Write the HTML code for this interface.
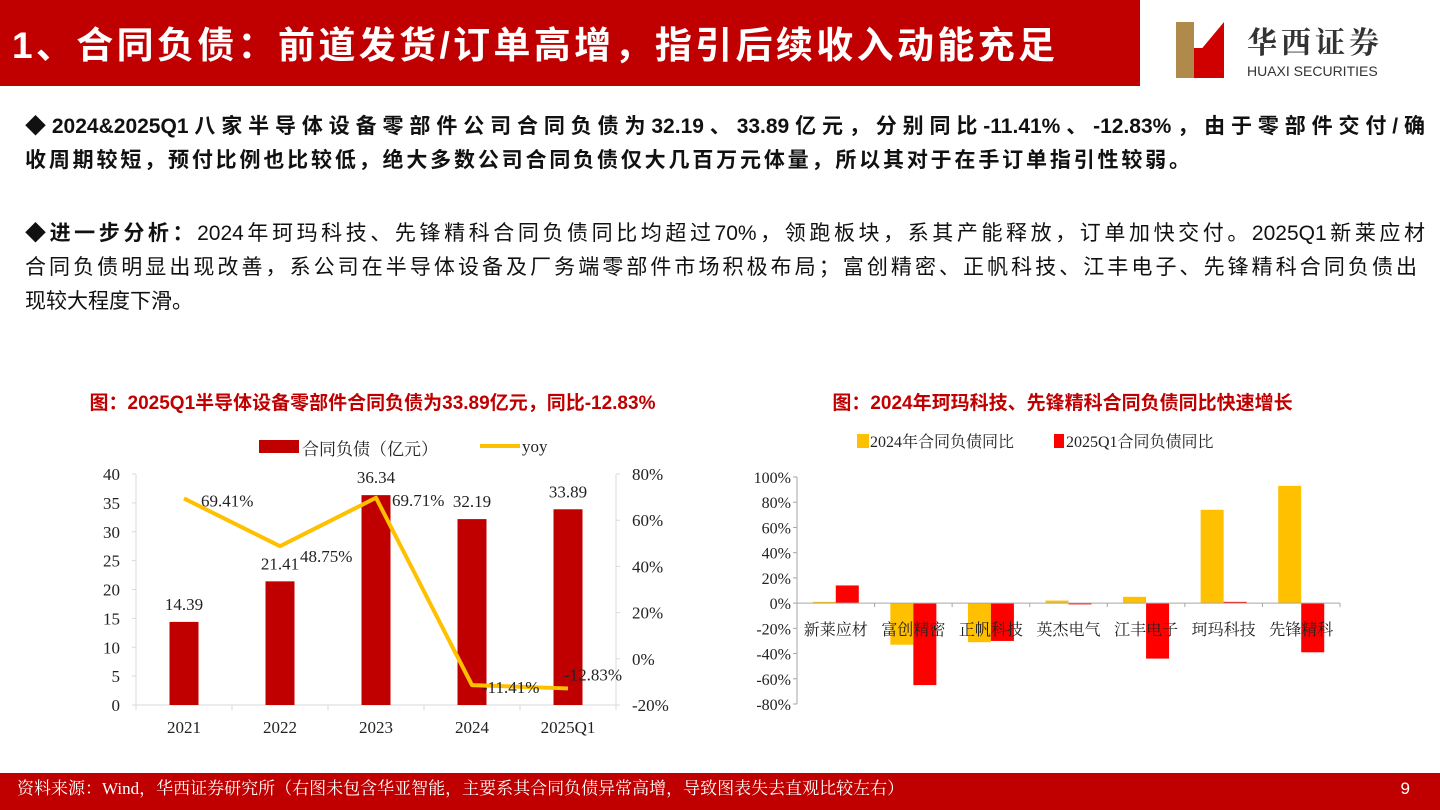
<!DOCTYPE html>
<html><head><meta charset="utf-8">
<style>
body{margin:0;width:1440px;height:810px;background:#fff;position:relative;overflow:hidden;font-family:"Liberation Sans","Noto Sans CJK SC",sans-serif;}
.hdr{position:absolute;left:0;top:0;width:1140px;height:86px;background:#c00000;}
.hdrt{position:absolute;left:12px;top:0;width:1043px;color:#fff;font-weight:bold;font-size:37px;line-height:92px;white-space:nowrap;text-align:justify;text-align-last:justify;}
.ln{position:absolute;left:25px;width:1400px;font-size:21px;line-height:34px;color:#111;white-space:nowrap;text-align:justify;text-align-last:justify;}
.foot{position:absolute;left:0;top:773px;width:1440px;height:37px;background:#c00000;color:#fff;font-family:"Liberation Serif","Noto Serif CJK SC",serif;font-size:17px;line-height:32px;padding-left:17px;box-sizing:border-box;}
svg text{font-family:"Liberation Serif","Noto Serif CJK SC",serif;}
</style></head><body>
<div class="hdr"></div>
<div class="hdrt">1、合同负债：前道发货/订单高增，指引后续收入动能充足</div>
<div style="position:absolute;left:1172px;top:18px;width:250px;height:65px;">
<svg width="60" height="64" viewBox="0 0 60 64"><rect x="4" y="4" width="18" height="56" fill="#b08a4a"/><polygon points="22,40 52,4 52,60 36,60 36,40" fill="#d00000"/><rect x="22" y="30" width="14" height="30" fill="#d00000"/></svg>
<div style="position:absolute;left:75px;top:0;font-family:'Noto Serif CJK SC',serif;font-size:30px;font-weight:bold;color:#333;letter-spacing:4px;">华西证券</div>
<div style="position:absolute;left:75px;top:45px;font-size:14px;color:#333;">HUAXI SECURITIES</div>
</div>
<div>
<div class="ln" style="top:110px;font-weight:bold;">◆2024&amp;2025Q1八家半导体设备零部件公司合同负债为32.19、33.89亿元，分别同比-11.41%、-12.83%，由于零部件交付/确</div>
<div class="ln" style="top:144px;font-weight:bold;width:1165px;">收周期较短，预付比例也比较低，绝大多数公司合同负债仅大几百万元体量，所以其对于在手订单指引性较弱。</div>
</div>
<div>
<div class="ln" style="top:217px;"><b>◆进一步分析：</b>2024年珂玛科技、先锋精科合同负债同比均超过70%，领跑板块，系其产能释放，订单加快交付。2025Q1新莱应材</div>
<div class="ln" style="top:251px;width:1392px;">合同负债明显出现改善，系公司在半导体设备及厂务端零部件市场积极布局；富创精密、正帆科技、江丰电子、先锋精科合同负债出</div>
<div class="ln" style="top:285px;width:180px;text-align-last:left;">现较大程度下滑。</div>
</div>

<div style="position:absolute;left:0;width:745px;top:388px;text-align:center;color:#c00000;font-weight:bold;font-size:19px;">图：2025Q1半导体设备零部件合同负债为33.89亿元，同比-12.83%</div>
<div style="position:absolute;left:740px;width:645px;top:388px;text-align:center;color:#c00000;font-weight:bold;font-size:19px;">图：2024年珂玛科技、先锋精科合同负债同比快速增长</div>

<svg id="c1" width="1440" height="810" style="position:absolute;left:0;top:0;"></svg>
<svg id="c2" width="1440" height="810" style="position:absolute;left:0;top:0;"></svg>

<div class="foot">资料来源：Wind，华西证券研究所（右图未包含华亚智能，主要系其合同负债异常高增，导致图表失去直观比较左右）<span style="position:absolute;right:30px;font-family:'Liberation Sans',sans-serif;">9</span></div>

<script>
const cats1=["2021","2022","2023","2024","2025Q1"];
const liab=[14.39,21.41,36.34,32.19,33.89];
const yoy=[69.41,48.75,69.71,-11.41,-12.83];
const leftTicks=[0,5,10,15,20,25,30,35,40];
const rightTicks=[-20,0,20,40,60,80];

const cats2=["新莱应材","富创精密","正帆科技","英杰电气","江丰电子","珂玛科技","先锋精科"];
const y2024=[1,-33,-31,2,5,74,93];
const y2025=[14,-65,-30,-1,-44,1,-39];
const ticks2=[-80,-60,-40,-20,0,20,40,60,80,100];

const NS="http://www.w3.org/2000/svg";
function mk(svg,tag,a,txt){const e=document.createElementNS(NS,tag);for(const k in a)e.setAttribute(k,a[k]);if(txt!==undefined)e.textContent=txt;svg.appendChild(e);return e;}

(function(){
const s=document.getElementById('c1');
const X0=136,X1=616,Y0=705,Ytop=474;
const band=(X1-X0)/cats1.length;
const xc=i=>X0+band*(i+0.5);
const yL=v=>Y0-(v/40)*(Y0-Ytop);
const yR=v=>Y0-((v+20)/100)*(Y0-Ytop);
let e;
e=mk(s,'line',{x1:X0,y1:Ytop,x2:X0,y2:Y0,stroke:'#d9d9d9'});

e=mk(s,'line',{x1:X1,y1:Ytop,x2:X1,y2:Y0,stroke:'#d9d9d9'});

e=mk(s,'line',{x1:X0,y1:Y0,x2:X1,y2:Y0,stroke:'#d9d9d9'});

leftTicks.forEach(t=>{mk(s,'line',{x1:X0-4,y1:yL(t),x2:X0,y2:yL(t),stroke:'#d9d9d9'});
e=mk(s,'text',{x:X0-16,y:yL(t)+6,'text-anchor':'end','font-size':17,fill:'#222'},String(t));
});
rightTicks.forEach(t=>{mk(s,'line',{x1:X1,y1:yR(t),x2:X1+4,y2:yR(t),stroke:'#d9d9d9'});
e=mk(s,'text',{x:X1+16,y:yR(t)+6,'font-size':17,fill:'#222'},t+'%');
});
for(let i=0;i<=cats1.length;i++)mk(s,'line',{x1:X0+band*i,y1:Y0,x2:X0+band*i,y2:Y0+5,stroke:'#d9d9d9'});
const bw=29;
cats1.forEach((c,i)=>{
e=mk(s,'rect',{x:xc(i)-bw/2,y:yL(liab[i]),width:bw,height:Y0-yL(liab[i]),fill:'#c00000'});

e=mk(s,'text',{x:xc(i),y:yL(liab[i])-12,'text-anchor':'middle','font-size':17,fill:'#222'},liab[i].toFixed(2));

e=mk(s,'text',{x:xc(i),y:Y0+28,'text-anchor':'middle','font-size':17,fill:'#222'},c);

});
e=mk(s,'polyline',{points:yoy.map((v,i)=>xc(i)+','+yR(v)).join(' '),fill:'none',stroke:'#ffc000','stroke-width':4,'stroke-linejoin':'round'});

const dx=[17,20,16,10,-4], dy=[8,16,8,8,-8];
yoy.forEach((v,i)=>{
e=mk(s,'text',{x:xc(i)+dx[i],y:yR(v)+dy[i],'font-size':17,fill:'#222'},v.toFixed(2)+'%');

});
e=mk(s,'rect',{x:259,y:440,width:40,height:13,fill:'#c00000'});

e=mk(s,'text',{x:302,y:455,'font-size':17,fill:'#222','font-family':'Liberation Sans,Noto Sans CJK SC,sans-serif'},'合同负债（亿元）');

e=mk(s,'line',{x1:480,y1:446,x2:520,y2:446,stroke:'#ffc000','stroke-width':4});

e=mk(s,'text',{x:522,y:452,'font-size':17,fill:'#222'},'yoy');

})();

(function(){
const s=document.getElementById('c2');
const X0=797,X1=1340,Ytop=477,Ybot=704;
const y=v=>Ytop+(100-v)/180*(Ybot-Ytop);
const band=(X1-X0)/cats2.length;
const xc=i=>X0+band*(i+0.5);
let e;
e=mk(s,'line',{x1:X0,y1:Ytop,x2:X0,y2:Ybot,stroke:'#a6a6a6'});

ticks2.forEach(t=>{mk(s,'line',{x1:X0-4,y1:y(t),x2:X0,y2:y(t),stroke:'#a6a6a6'});
e=mk(s,'text',{x:X0-6,y:y(t)+6,'text-anchor':'end','font-size':16,fill:'#222'},t+'%');
});
const bw=23;
cats2.forEach((c,i)=>{
const a=y2024[i],b=y2025[i];
e=mk(s,'rect',{x:xc(i)-bw,y:Math.min(y(a),y(0)),width:bw,height:Math.abs(y(a)-y(0)),fill:'#ffc000'});

e=mk(s,'rect',{x:xc(i),y:Math.min(y(b),y(0)),width:bw,height:Math.abs(y(b)-y(0)),fill:'#ff0000'});

e=mk(s,'text',{x:xc(i),y:y(0)+32,'text-anchor':'middle','font-size':16,fill:'#222','font-family':'Liberation Sans,Noto Sans CJK SC,sans-serif'},c);

});
e=mk(s,'line',{x1:X0,y1:y(0),x2:X1,y2:y(0),stroke:'#a6a6a6'});

for(let i=0;i<=cats2.length;i++)mk(s,'line',{x1:X0+band*i,y1:y(0),x2:X0+band*i,y2:y(0)+4,stroke:'#a6a6a6'});
e=mk(s,'rect',{x:857,y:434,width:12,height:14,fill:'#ffc000'});

e=mk(s,'text',{x:870,y:447,'font-size':16,fill:'#222'},'2024年合同负债同比');

e=mk(s,'rect',{x:1054,y:434,width:10,height:14,fill:'#ff0000'});

e=mk(s,'text',{x:1066,y:447,'font-size':16,fill:'#222'},'2025Q1合同负债同比');

})();
</script>
</body></html>
